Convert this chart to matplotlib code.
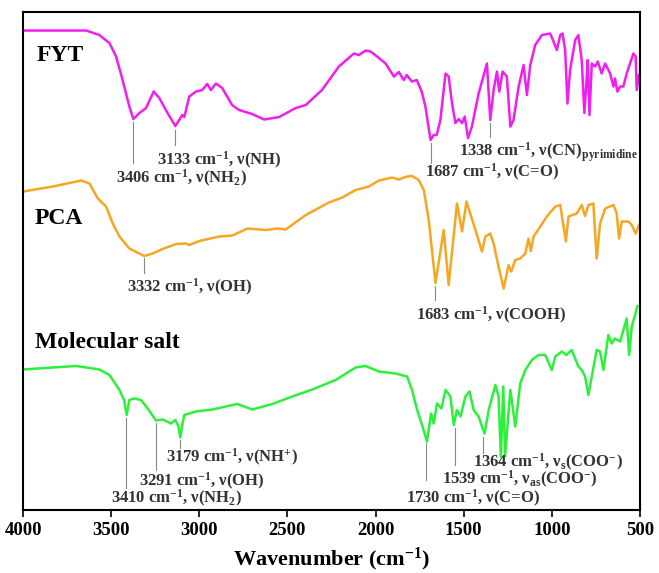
import numpy as np
import matplotlib
matplotlib.use('Agg')
import matplotlib.pyplot as plt

plt.rcParams['font.family'] = ['Liberation Serif', 'DejaVu Serif']
plt.rcParams['font.weight'] = 'bold'
plt.rcParams['mathtext.fontset'] = 'custom'
plt.rcParams['mathtext.rm'] = 'Liberation Serif:bold'
plt.rcParams['mathtext.bf'] = 'Liberation Serif:bold'
plt.rcParams['mathtext.it'] = 'Liberation Serif:bold:italic'

# FYT spectrum (wavenumber, stacked transmittance a.u.)
fyt_wn = [4000, 3642, 3567, 3510, 3472, 3435, 3397, 3374, 3340, 3302, 3259, 3227, 3180, 3136,
          3114, 3097, 3085, 3057, 3019, 2983, 2955, 2934, 2906, 2870, 2814, 2774, 2700, 2632,
          2547, 2453, 2396, 2304, 2208, 2123, 2094, 2056, 2028, 1991, 1943, 1896, 1868, 1840,
          1823, 1794, 1766, 1738, 1717, 1688, 1670, 1653, 1632, 1603, 1585, 1566, 1547, 1528,
          1509, 1494, 1475, 1453, 1415, 1368, 1349, 1330, 1311, 1298, 1279, 1255, 1235, 1217,
          1188, 1160, 1141, 1122, 1094, 1056, 1009, 990, 971, 952, 939, 924, 911, 896, 867,
          849, 830, 815, 805, 796, 786, 773, 754, 739, 717, 697, 669, 650, 641, 628, 612, 594,
          575, 556, 537, 524, 518, 505]
fyt_t = [95.9, 95.9, 95.0, 93.4, 90.7, 86.0, 80.7, 78.2, 79.4, 80.4, 83.7, 82.4, 79.4, 76.8,
         78.0, 79.0, 78.6, 82.7, 83.7, 84.0, 85.2, 84.0, 85.3, 84.4, 81.0, 80.0, 79.2, 78.1,
         78.6, 80.4, 81.0, 84.0, 88.7, 91.3, 91.0, 91.9, 91.7, 90.7, 89.3, 86.7, 87.6, 86.0,
         87.0, 85.7, 86.0, 83.7, 80.7, 74.0, 75.0, 75.0, 78.0, 87.3, 86.7, 81.4, 77.4, 78.2,
         77.4, 78.7, 74.4, 76.7, 83.3, 89.3, 78.0, 84.0, 87.7, 83.7, 87.7, 86.7, 76.7, 78.0,
         84.7, 89.0, 83.0, 89.0, 93.0, 95.0, 95.3, 93.7, 92.0, 95.0, 95.3, 92.0, 81.3, 88.0, 94.0,
         95.0, 90.0, 79.4, 84.7, 90.0, 79.0, 89.3, 88.7, 89.7, 87.3, 89.3, 87.3, 84.7, 86.3, 83.7, 84.7, 84.7,
         87.3, 89.3, 91.3, 90.7, 84.0, 87.0]

# PCA spectrum
pca_wn = [4000, 3831, 3670, 3623, 3576, 3529, 3491, 3453, 3397, 3312, 3265, 3208, 3132, 3076,
          3057, 3000, 2887, 2812, 2727, 2623, 2557, 2510, 2396, 2264, 2189, 2113, 2038, 1981,
          1906, 1868, 1821, 1793, 1755, 1726, 1698, 1660, 1613, 1585, 1538, 1509, 1484, 1433,
          1396, 1377, 1349, 1330, 1302, 1273, 1245, 1230, 1207, 1179, 1150, 1132, 1119, 1103,
          1065, 1028, 980, 952, 920, 905, 858, 830, 811, 792, 764, 745, 726, 697, 650, 632,
          618, 603, 565, 546, 524, 505]
pca_t = [63.7, 64.7, 65.9, 65.3, 62.3, 60.7, 57.3, 54.7, 52.3, 50.8, 51.3, 52.2, 53.2, 53.3,
         53.0, 53.8, 54.7, 54.9, 56.3, 56.0, 56.3, 56.1, 59.0, 61.5, 62.5, 64.0, 64.7, 65.9,
         66.5, 66.1, 66.7, 66.8, 66.0, 64.0, 58.0, 45.4, 56.0, 45.0, 61.3, 55.7, 61.7, 56.0,
         51.7, 54.7, 55.3, 53.3, 48.7, 44.3, 49.0, 47.7, 50.0, 50.3, 51.3, 54.3, 51.8, 54.7,
         56.7, 58.7, 60.7, 61.0, 53.7, 58.7, 59.3, 61.0, 58.8, 61.0, 61.3, 50.3, 57.3, 60.3, 61.0, 59.4,
         54.3, 57.7, 57.7, 57.0, 55.3, 57.0]

# Molecular salt spectrum
salt_wn = [4000, 3831, 3699, 3567, 3510, 3453, 3427, 3412, 3397, 3369, 3331, 3293, 3246, 3208,
           3161, 3136, 3119, 3108, 3097, 3085, 3019, 2925, 2849, 2784, 2699, 2585, 2472, 2359,
           2226, 2113, 2056, 1981, 1887, 1821, 1793, 1764, 1736, 1708, 1685, 1670, 1651, 1626,
           1603, 1575, 1556, 1538, 1518, 1490, 1467, 1443, 1415, 1396, 1381, 1358, 1320, 1302,
           1289, 1275, 1265, 1235, 1207, 1179, 1150, 1113, 1075, 1037, 1000, 980, 943, 917,
           887, 849, 830, 811, 792, 773, 745, 726, 707, 679, 660, 641, 612, 575, 561, 546, 513]
salt_t = [28.1, 28.5, 28.8, 28.1, 27.0, 24.0, 22.0, 19.0, 22.0, 22.3, 22.0, 20.3, 17.9, 18.1,
          17.3, 18.0, 16.8, 14.5, 17.0, 19.0, 19.7, 20.1, 20.7, 21.2, 20.1, 21.2, 22.7, 24.1,
          26.0, 28.5, 28.8, 27.7, 27.3, 26.7, 24.0, 20.0, 17.0, 13.7, 19.3, 17.3, 21.3, 20.3,
          24.0, 22.7, 17.0, 20.0, 18.7, 22.7, 23.7, 20.0, 18.7, 16.7, 15.3, 20.0, 25.0, 22.7,
          10.7, 24.7, 10.7, 24.0, 16.7, 25.3, 28.0, 30.0, 31.0, 31.0, 28.0, 30.7, 31.7, 31.0,
          32.0, 28.7, 28.0, 26.7, 23.0, 26.7, 32.0, 31.7, 28.0, 35.0, 33.3, 34.3, 33.7, 38.3, 31.0, 36.7, 40.8]

# annotations: (line x, line y top, line y bottom, text x, text y, label)
fyt_notes = [(3378, 77.6, 69.4, 3470, 66.4, r'3406 cm$^{-1}$, ν(NH$_2$)'),
             (3136, 76.0, 73.0, 3238, 70.0, r'3133 cm$^{-1}$, ν(NH)'),
             (1349, 77.4, 74.6, 1528, 71.6, r'1338 cm$^{-1}$, ν(CN)$_{\mathrm{pyrimidine}}$'),
             (1688, 73.4, 69.4, 1717, 67.6, r'1687 cm$^{-1}$, ν(C=O)')]
pca_notes = [(3312, 50.4, 47.4, 3408, 44.6, r'3332 cm$^{-1}$, ν(OH)'),
             (1660, 44.8, 42.0, 1772, 39.0, r'1683 cm$^{-1}$, ν(COOH)')]
salt_notes = [(3108, 14.0, 12.4, 3187, 10.6, r'3179 cm$^{-1}$, ν(NH$^{+}$)'),
              (3246, 17.4, 8.0, 3340, 5.8, r'3291 cm$^{-1}$, ν(OH)'),
              (3416, 18.4, 4.4, 3499, 2.4, r'3410 cm$^{-1}$, ν(NH$_2$)'),
              (1390, 14.6, 11.4, 1449, 9.6, r'1364 cm$^{-1}$, ν$_{\mathrm{s}}$(COO$^{-}$)'),
              (1551, 16.4, 9.0, 1624, 6.2, r'1539 cm$^{-1}$, ν$_{\mathrm{as}}$(COO$^{-}$)'),
              (1711, 13.4, 6.0, 1828, 2.4, r'1730 cm$^{-1}$, ν(C=O)')]

fig = plt.figure(figsize=(6.59, 5.73), dpi=100)
ax = fig.add_axes([0.035, 0.110, 0.936, 0.869])

ax.plot(fyt_wn, fyt_t, color='#f01ef0', lw=1.8)
ax.plot(pca_wn, pca_t, color='#f5a623', lw=1.8)
ax.plot(salt_wn, salt_t, color='#2cf03c', lw=1.8)

for notes in [fyt_notes, pca_notes, salt_notes]:
    for lx, y1, y2, tx, ty, lab in notes:
        ax.plot([lx, lx], [y1, y2], color='#888888', lw=0.8)
        ax.text(tx, ty, lab, ha='left', va='center', fontsize=12,
                color='#333333', fontweight='bold')

ax.text(3924, 91.0, 'FYT', fontsize=17, fontweight='bold', va='center')
ax.text(3935, 58.4, 'PCA', fontsize=17, fontweight='bold', va='center')
ax.text(3935, 33.4, 'Molecular salt', fontsize=17, fontweight='bold', va='center')

ax.set_xlim(4000, 500)
ax.set_ylim(0, 99.6)
ax.set_xticks(np.arange(4000, 499, -500))
ax.set_yticks([])
ax.tick_params(axis='x', direction='out', length=5, width=1.2, labelsize=13.5)
for lab in ax.get_xticklabels():
    lab.set_fontweight('bold')
for sp in ax.spines.values():
    sp.set_linewidth(1.5)
ax.set_xlabel(r'Wavenumber (cm$^{-1}$)', fontsize=16, fontweight='bold', labelpad=5)

fig.savefig('out.png', dpi=100)
